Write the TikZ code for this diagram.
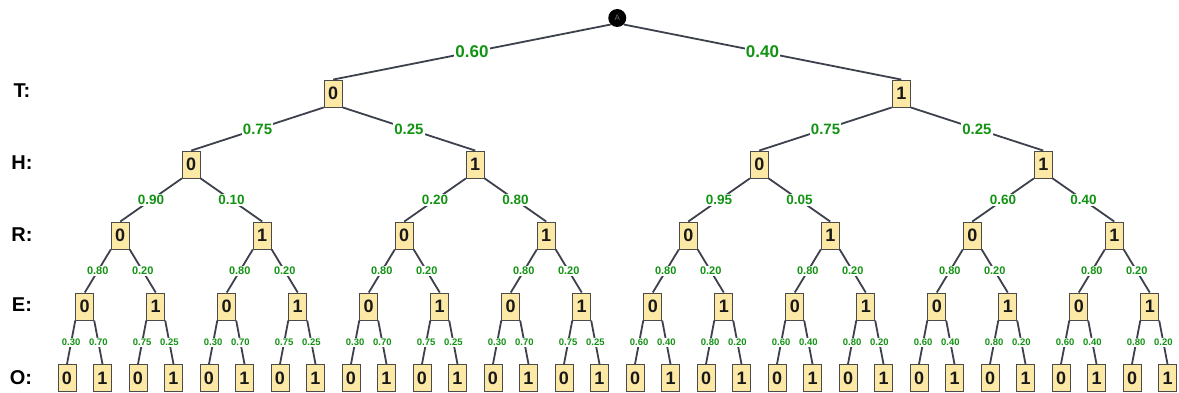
\documentclass[tikz,border=0pt]{standalone}
\usepackage{fontspec}
\setmainfont{Liberation Sans}
\definecolor{edgegray}{HTML}{3C414C}
\definecolor{boxfill}{HTML}{FDE9A6}
\definecolor{boxline}{HTML}{4A4A4A}
\definecolor{probgreen}{HTML}{139313}
\tikzset{
  state/.style={draw=boxline, line width=0.9pt, fill=boxfill, minimum width=18pt,
    minimum height=27pt, inner sep=0pt, text=black!90,
    font=\fontsize{18}{18}\selectfont\bfseries},
  link/.style={draw=edgegray, line width=1.8pt},
  prob/.style={fill=white, inner sep=1pt, text=probgreen,
    font=\fontsize{#1}{#1}\selectfont\bfseries},
  levelname/.style={font=\fontsize{20}{20}\selectfont\bfseries, text=black},
  rootnode/.style={circle, fill=black, minimum size=18pt, inner sep=0pt,
    text=black!55, font=\fontsize{8}{8}\selectfont}
}
\begin{document}
\begin{tikzpicture}[x=1pt,y=-1pt]
\useasboundingbox (0,0) rectangle (1179,393);

% level names
\node[levelname] (nameT) at (22,91) {T:};
\node[levelname] (nameH) at (22,163) {H:};
\node[levelname] (nameR) at (22,235) {R:};
\node[levelname] (nameE) at (22,305) {E:};
\node[levelname] (nameO) at (21,378) {O:};

% root
\node[rootnode] (root) at (617.25,18) {A};

% states of each level, centred over their leaves
\foreach \lvl/\n/\y in {t/2/93.5, h/4/164.5, r/8/235.5, e/16/306.5, o/32/378} {
  \pgfmathsetmacro\w{32/\n}
  \pgfmathtruncatemacro\last{\n-1}
  \foreach \j in {0,...,\last} {
    \pgfmathsetmacro\x{67+35.5*(\j*\w+(\w-1)/2)}
    \pgfmathtruncatemacro\bit{mod(\j,2)}
    \node[state] (\lvl\j) at (\x,\y) {\bit};
  }
}

% root -> T
\draw[link] (root.south west) -- node[prob=17]{0.60} (t0.north);
\draw[link] (root.south east) -- node[prob=17]{0.40} (t1.north);

% T -> H
\foreach \p/\a/\b in {0/0.75/0.25, 1/0.75/0.25} {
  \pgfmathtruncatemacro\l{2*\p}
  \pgfmathtruncatemacro\r{2*\p+1}
  \draw[link] (t\p.south west) -- node[prob=15]{\a} (h\l.north);
  \draw[link] (t\p.south east) -- node[prob=15]{\b} (h\r.north);
}

% H -> R
\foreach \p/\a/\b in {0/0.90/0.10, 1/0.20/0.80, 2/0.95/0.05, 3/0.60/0.40} {
  \pgfmathtruncatemacro\l{2*\p}
  \pgfmathtruncatemacro\r{2*\p+1}
  \draw[link] (h\p.south west) -- node[prob=13.5]{\a} (r\l.north);
  \draw[link] (h\p.south east) -- node[prob=13.5]{\b} (r\r.north);
}

% R -> E
\foreach \p in {0,...,7} {
  \pgfmathtruncatemacro\l{2*\p}
  \pgfmathtruncatemacro\r{2*\p+1}
  \draw[link] (r\p.south west) -- node[prob=11]{0.80} (e\l.north);
  \draw[link] (r\p.south east) -- node[prob=11]{0.20} (e\r.north);
}

% E -> O
\foreach \p/\a/\b in {0/0.30/0.70, 1/0.75/0.25, 2/0.30/0.70, 3/0.75/0.25,
                      4/0.30/0.70, 5/0.75/0.25, 6/0.30/0.70, 7/0.75/0.25,
                      8/0.60/0.40, 9/0.80/0.20, 10/0.60/0.40, 11/0.80/0.20,
                      12/0.60/0.40, 13/0.80/0.20, 14/0.60/0.40, 15/0.80/0.20} {
  \pgfmathtruncatemacro\l{2*\p}
  \pgfmathtruncatemacro\r{2*\p+1}
  \draw[link] (e\p.south west) -- node[prob=9.5]{\a} (o\l.north);
  \draw[link] (e\p.south east) -- node[prob=9.5]{\b} (o\r.north);
}
\end{tikzpicture}
\end{document}
